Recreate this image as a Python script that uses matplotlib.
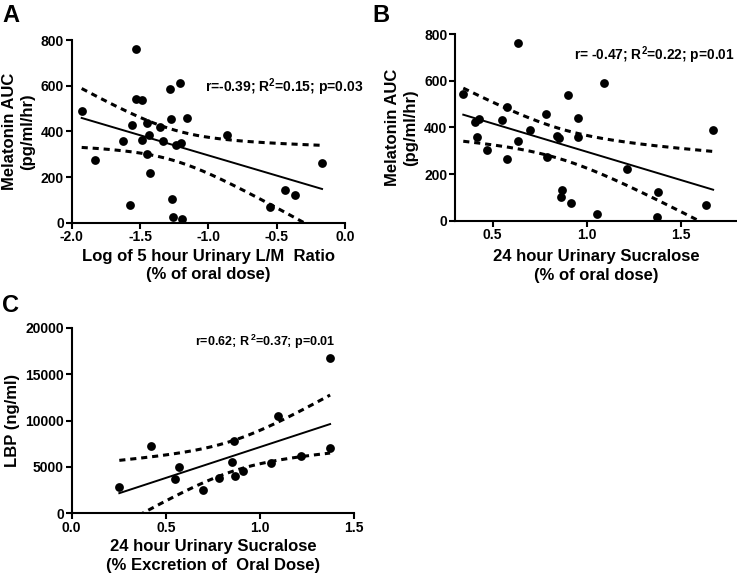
import numpy as np
import matplotlib
matplotlib.use("Agg")
import matplotlib.pyplot as plt

plt.rcParams['font.family'] = ['Liberation Sans', 'DejaVu Sans']
plt.rcParams['font.weight'] = 'bold'
plt.rcParams['mathtext.fontset'] = 'custom'
for k in ['rm', 'it', 'bf', 'sf']:
    plt.rcParams['mathtext.' + k] = 'Liberation Sans:bold'

# Panel A data
a_x = [-1.927, -1.829, -1.527, -1.529, -1.485, -1.561, -1.624, -1.573, -1.488, -1.446,
       -1.437, -1.446, -1.427, -1.354, -1.332, -1.280, -1.271, -1.205, -1.159, -1.263,
       -1.256, -1.190, -1.239, -1.202, -0.863, -0.551, -0.439, -0.368, -0.168]
a_y = [488, 273, 759, 542, 537, 429, 358, 76, 361, 438,
       384, 299, 219, 420, 356, 587, 455, 613, 457, 102,
       25, 15, 340, 350, 385, 69, 143, 123, 260]

# Panel B data
b_x = [0.344, 0.406, 0.429, 0.417, 0.472, 0.550, 0.576, 0.575, 0.633, 0.637,
       0.699, 0.784, 0.790, 0.841, 0.853, 0.871, 0.864, 0.900, 0.916, 0.956,
       0.956, 1.056, 1.095, 1.216, 1.379, 1.374, 1.637, 1.673]
b_y = [544, 424, 434, 360, 301, 431, 489, 263, 763, 341,
       389, 459, 274, 363, 353, 131, 103, 540, 77, 440,
       357, 27, 590, 221, 124, 14, 67, 389]

# Panel C data
c_x = [0.253, 0.423, 0.547, 0.570, 0.697, 0.782, 0.851, 0.862, 0.869, 0.912,
       1.057, 1.096, 1.216, 1.370, 1.373]
c_y = [2786, 7250, 3678, 5000, 2536, 3786, 5536, 7750, 4071, 4607,
       5429, 10536, 6178, 16714, 7071]

a_stats = "r=-0.39; R$^2$=0.15; p=0.03"
b_stats = "r= -0.47; R$^2$=0.22; p=0.01"
c_stats = "r=0.62; R$\\,^2$=0.37; p=0.01"

T975 = {27: 2.052, 26: 2.056, 13: 2.160}


def fit_plot(ax, x, y):
    x = np.asarray(x, float)
    y = np.asarray(y, float)
    n = len(x)
    b, a = np.polyfit(x, y, 1)
    xs = np.linspace(x.min(), x.max(), 200)
    yhat = a + b * xs
    resid = y - (a + b * x)
    s = np.sqrt(np.sum(resid ** 2) / (n - 2))
    sxx = np.sum((x - x.mean()) ** 2)
    se = s * np.sqrt(1.0 / n + (xs - x.mean()) ** 2 / sxx)
    t = T975.get(n - 2, 2.05)
    ax.plot(xs, yhat, color='black', lw=1.4, zorder=2)
    ax.plot(xs, yhat + t * se, color='black', lw=2.2, ls=(0, (2.0, 1.6)), zorder=2)
    ax.plot(xs, yhat - t * se, color='black', lw=2.2, ls=(0, (2.0, 1.6)), zorder=2)
    ax.scatter(x, y, s=40, color='black', zorder=3, linewidths=0)


def style(ax):
    for sp in ['top', 'right']:
        ax.spines[sp].set_visible(False)
    for sp in ['left', 'bottom']:
        ax.spines[sp].set_linewidth(1.5)
    ax.tick_params(width=1.5, length=4, labelsize=10, pad=1.5)
    for lab in ax.get_xticklabels() + ax.get_yticklabels():
        lab.set_fontweight('bold')


W, H = 737, 577
fig = plt.figure(figsize=(W / 100, H / 100), dpi=100)


def axes_px(l, r, t, b):
    return fig.add_axes([l / W, 1 - b / H, (r - l) / W, (b - t) / H])


LBL = 12.0
LS = 1.3

# Panel A
axA = axes_px(71.7, 345, 40, 222.7)
fit_plot(axA, a_x, a_y)
axA.set_xlim(-2.0, 0.0)
axA.set_ylim(0, 800)
axA.set_xticks([-2.0, -1.5, -1.0, -0.5, 0.0])
axA.set_xticklabels(['-2.0', '-1.5', '-1.0', '-0.5', '0.0'])
axA.set_yticks([0, 200, 400, 600, 800])
style(axA)
axA.set_xlabel("Log of 5 hour Urinary L/M  Ratio\n(% of oral dose)", fontsize=LBL,
               fontweight='bold', labelpad=3, linespacing=LS)
axA.set_ylabel("Melatonin AUC\n(pg/ml/hr)", fontsize=LBL, fontweight='bold',
               labelpad=4, linespacing=LS)
fig.text(205 / W, 1 - 87 / H, a_stats, fontsize=10, fontweight='bold', va='center', ha='left')
fig.text(2 / W, 1 - 15 / H, "A", fontsize=17, fontweight='bold', va='center', ha='left')

# Panel B
axB = axes_px(455, 737, 34, 220.7)
fit_plot(axB, b_x, b_y)
axB.set_xlim(0.3, 1.8)
axB.set_ylim(0, 800)
axB.set_xticks([0.5, 1.0, 1.5])
axB.set_xticklabels(['0.5', '1.0', '1.5'])
axB.set_yticks([0, 200, 400, 600, 800])
style(axB)
axB.set_xlabel("24 hour Urinary Sucralose\n(% of oral dose)", fontsize=LBL,
               fontweight='bold', labelpad=5, linespacing=LS)
axB.set_ylabel("Melatonin AUC\n(pg/ml/hr)", fontsize=LBL, fontweight='bold',
               labelpad=4, linespacing=LS)
fig.text(574 / W, 1 - 55 / H, b_stats, fontsize=9.9, fontweight='bold', va='center', ha='left')
fig.text(372 / W, 1 - 15 / H, "B", fontsize=17, fontweight='bold', va='center', ha='left')

# Panel C
axC = axes_px(71.7, 354, 327.7, 513.3)
fit_plot(axC, c_x, c_y)
axC.set_xlim(0.0, 1.5)
axC.set_ylim(0, 20000)
axC.set_xticks([0.0, 0.5, 1.0, 1.5])
axC.set_xticklabels(['0.0', '0.5', '1.0', '1.5'])
axC.set_yticks([0, 5000, 10000, 15000, 20000])
style(axC)
axC.set_xlabel("24 hour Urinary Sucralose\n(% Excretion of  Oral Dose)", fontsize=LBL,
               fontweight='bold', labelpad=3, linespacing=LS)
axC.set_ylabel("LBP (ng/ml)", fontsize=LBL, fontweight='bold', labelpad=4)
fig.text(195 / W, 1 - 342 / H, c_stats, fontsize=9, fontweight='bold', va='center', ha='left')
fig.text(2 / W, 1 - 305 / H, "C", fontsize=17, fontweight='bold', va='center', ha='left')

fig.savefig("out.png", dpi=100)
